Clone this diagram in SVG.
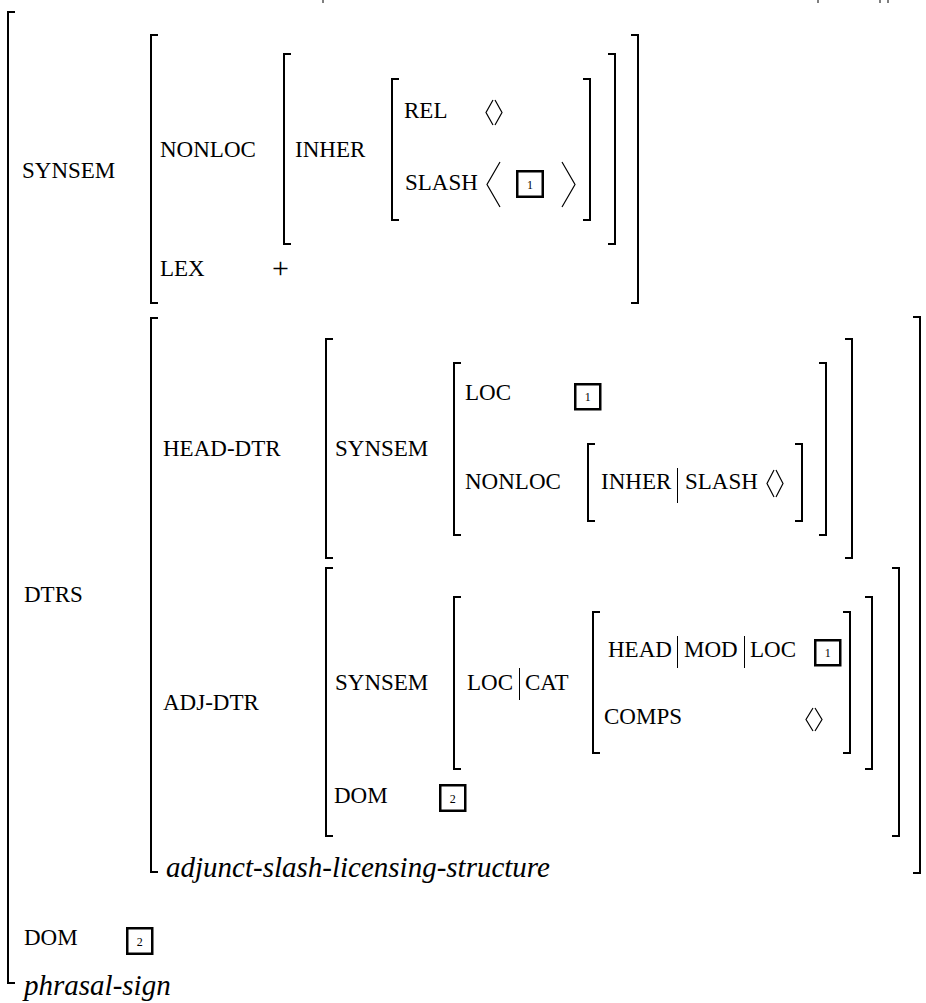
<svg xmlns="http://www.w3.org/2000/svg" width="926" height="1003" viewBox="0 0 926 1003">
  <style>
    .br { fill: none; stroke: #000; stroke-width: 2; }
    .ang { fill: none; stroke: #000; stroke-width: 1.2; }
    .bar { stroke: #000; stroke-width: 1; }
    .tag { fill: #fff; stroke: #000; stroke-width: 2.5; }
    .lbl { font-size: 23px; fill: #000; }
    .sort { font-style: italic; font-size: 29px; fill: #000; }
    .num { font-size: 12px; fill: #000; text-anchor: middle; }
    .sym { font-size: 30px; fill: #000; }
  </style>

  <!-- stray descender marks of the line above -->
  <g id="top-marks" class="bar">
    <line x1="323" y1="0" x2="323" y2="3"/>
    <line x1="818" y1="0" x2="818" y2="3"/>
    <line x1="880" y1="0" x2="880" y2="3"/>
    <line x1="888" y1="0" x2="888" y2="3"/>
  </g>

  <!-- phrasal-sign (outermost AVM) -->
  <g id="phrasal-sign">
    <path class="br" d="M15 12 H8 V983 H15"/>
    <text class="lbl" font-family="Liberation Serif" x="22" y="178">SYNSEM</text>
    <text class="lbl" font-family="Liberation Serif" x="24" y="602">DTRS</text>
    <text class="lbl" font-family="Liberation Serif" x="24" y="945">DOM</text>
    <rect class="tag" x="127.25" y="928.25" width="25" height="25.5"/>
    <text class="num" font-family="Liberation Serif" x="139.75" y="945.5">2</text>
    <text class="sort" font-family="Liberation Serif" x="24" y="995">phrasal-sign</text>
  </g>

  <!-- SYNSEM value -->
  <g id="synsem">
    <path class="br" d="M158 35 H151 V303 H158"/>
    <path class="br" d="M631 35 H638 V303 H631"/>
    <text class="lbl" font-family="Liberation Serif" x="160" y="157">NONLOC</text>
    <text class="lbl" font-family="Liberation Serif" x="160" y="276">LEX</text>
    <text class="sym" font-family="Liberation Serif" x="272" y="278">+</text>
  </g>

  <g id="synsem-nonloc">
    <path class="br" d="M291 54 H284 V244 H291"/>
    <path class="br" d="M608 54 H615 V244 H608"/>
    <text class="lbl" font-family="Liberation Serif" x="295" y="157">INHER</text>
  </g>

  <g id="synsem-inher">
    <path class="br" d="M399 79 H392 V220 H399"/>
    <path class="br" d="M583 79 H590 V220 H583"/>
    <text class="lbl" font-family="Liberation Serif" x="404" y="118">REL</text>
    <path class="ang" d="M493 100 L486 112.5 L493 125 M495 100 L502 112.5 L495 125"/>
    <text class="lbl" font-family="Liberation Serif" x="405" y="190">SLASH</text>
    <path class="ang" d="M500 162 L487 184.5 L500 207 M562 162 L575 184.5 L562 207"/>
    <rect class="tag" x="517.25" y="171.25" width="25.5" height="25.5"/>
    <text class="num" font-family="Liberation Serif" x="530" y="188.5">1</text>
  </g>

  <!-- DTRS value -->
  <g id="dtrs">
    <path class="br" d="M158 318 H151 V872 H158"/>
    <path class="br" d="M913 317 H920 V873 H913"/>
    <text class="lbl" font-family="Liberation Serif" x="163" y="456">HEAD-DTR</text>
    <text class="lbl" font-family="Liberation Serif" x="163" y="710">ADJ-DTR</text>
    <text class="sort" font-family="Liberation Serif" x="166" y="877">adjunct-slash-licensing-structure</text>
  </g>

  <!-- HEAD-DTR value -->
  <g id="head-dtr">
    <path class="br" d="M333 339 H326 V558 H333"/>
    <path class="br" d="M845 339 H852 V558 H845"/>
    <text class="lbl" font-family="Liberation Serif" x="335" y="456">SYNSEM</text>
  </g>

  <g id="head-dtr-synsem">
    <path class="br" d="M461 363 H454 V535 H461"/>
    <path class="br" d="M819 363 H826 V535 H819"/>
    <text class="lbl" font-family="Liberation Serif" x="465" y="400">LOC</text>
    <rect class="tag" x="575.25" y="384.25" width="25" height="25"/>
    <text class="num" font-family="Liberation Serif" x="587.75" y="401">1</text>
    <text class="lbl" font-family="Liberation Serif" x="465" y="489">NONLOC</text>
  </g>

  <g id="head-dtr-nonloc">
    <path class="br" d="M595 444 H588 V521 H595"/>
    <path class="br" d="M795 444 H802 V521 H795"/>
    <text class="lbl" font-family="Liberation Serif" x="601" y="489">INHER</text>
    <line class="bar" x1="677.5" y1="468" x2="677.5" y2="503"/>
    <text class="lbl" font-family="Liberation Serif" x="685" y="489">SLASH</text>
    <path class="ang" d="M774 470 L767 483.5 L774 497 M776 470 L783 483.5 L776 497"/>
  </g>

  <!-- ADJ-DTR value -->
  <g id="adj-dtr">
    <path class="br" d="M333 568 H326 V836 H333"/>
    <path class="br" d="M892 568 H899 V836 H892"/>
    <text class="lbl" font-family="Liberation Serif" x="335" y="690">SYNSEM</text>
    <text class="lbl" font-family="Liberation Serif" x="334" y="803">DOM</text>
    <rect class="tag" x="440.25" y="785.25" width="25" height="25.5"/>
    <text class="num" font-family="Liberation Serif" x="452.75" y="802.5">2</text>
  </g>

  <g id="adj-dtr-synsem">
    <path class="br" d="M461 597 H454 V769 H461"/>
    <path class="br" d="M865 597 H872 V769 H865"/>
    <text class="lbl" font-family="Liberation Serif" x="467" y="690">LOC</text>
    <line class="bar" x1="519.5" y1="668" x2="519.5" y2="700"/>
    <text class="lbl" font-family="Liberation Serif" x="525" y="690">CAT</text>
  </g>

  <g id="adj-dtr-cat">
    <path class="br" d="M600 612 H593 V753 H600"/>
    <path class="br" d="M843 612 H850 V753 H843"/>
    <text class="lbl" font-family="Liberation Serif" x="608" y="657">HEAD</text>
    <line class="bar" x1="677.5" y1="636" x2="677.5" y2="668"/>
    <text class="lbl" font-family="Liberation Serif" x="684" y="657">MOD</text>
    <line class="bar" x1="744.5" y1="636" x2="744.5" y2="668"/>
    <text class="lbl" font-family="Liberation Serif" x="750" y="657">LOC</text>
    <rect class="tag" x="815.25" y="640.25" width="25" height="25"/>
    <text class="num" font-family="Liberation Serif" x="827.75" y="657">1</text>
    <text class="lbl" font-family="Liberation Serif" x="604" y="724">COMPS</text>
    <path class="ang" d="M813 708 L806 719.5 L813 731 M815 708 L822 719.5 L815 731"/>
  </g>
</svg>
